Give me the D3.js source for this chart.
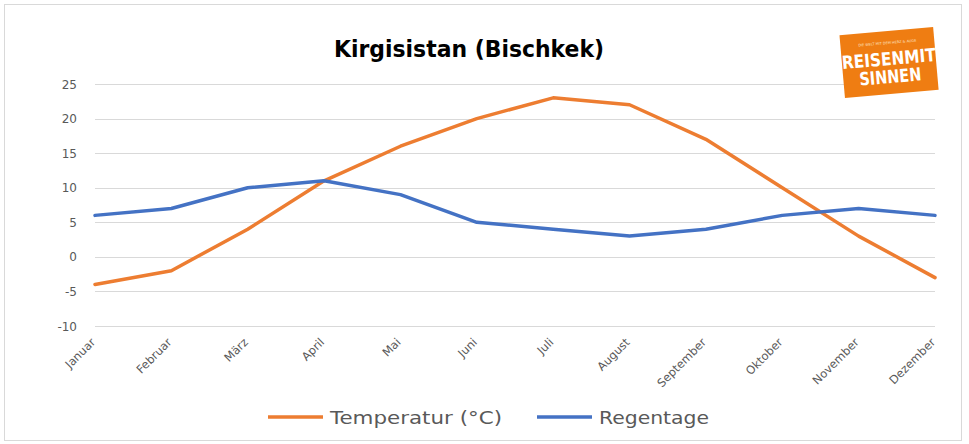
<html>
<head>
<title>Kirgisistan (Bischkek)</title>
<script src="https://cdn.jsdelivr.net/npm/d3@7"></script>
<style>
  body { margin:0; background:#fff; }
  text { font-family: "DejaVu Sans", sans-serif; }
</style>
</head>
<body>
<svg id="chart" width="969" height="444"></svg>

<script type="text/javascript">
  var months = ["Januar", "Februar", "März", "April", "Mai", "Juni", "Juli", "August", "September", "Oktober", "November", "Dezember"];
  var temperatur = [-4, -2, 4, 11, 16, 20, 23, 22, 17, 10, 3, -3];
  var regentage = [6, 7, 10, 11, 9, 5, 4, 3, 4, 6, 7, 6];
  var yTicks = [-10, -5, 0, 5, 10, 15, 20, 25];

  var svg = d3.select("#chart");

  // outer frame
  svg.append("rect")
      .attr("x", 4.5).attr("y", 4.5)
      .attr("width", 957).attr("height", 436)
      .attr("fill", "#fff")
      .attr("stroke", "#d9d9d9");

  var x = d3.scalePoint().domain(months).range([95, 935]);
  var y = d3.scaleLinear().domain([-10, 25]).range([326, 84]);

  // gridlines
  svg.append("g")
    .selectAll("line")
    .data(yTicks)
    .enter().append("line")
      .attr("x1", 95).attr("x2", 935)
      .attr("y1", function(d) { return Math.round(y(d)) + 0.5; })
      .attr("y2", function(d) { return Math.round(y(d)) + 0.5; })
      .attr("stroke", "#d9d9d9");

  // y axis labels
  svg.append("g")
    .selectAll("text")
    .data(yTicks)
    .enter().append("text")
      .attr("x", 77)
      .attr("y", function(d) { return y(d) + 4.5; })
      .attr("text-anchor", "end")
      .attr("font-size", 12)
      .attr("fill", "#595959")
      .text(function(d) { return d; });

  // x axis labels, rotated
  svg.append("g")
    .selectAll("text")
    .data(months)
    .enter().append("text")
      .attr("transform", function(d) { return "translate(" + (x(d) + 1) + ",343) rotate(-45)"; })
      .attr("text-anchor", "end")
      .attr("font-size", 11.5)
      .attr("fill", "#595959")
      .text(function(d) { return d; });

  var line = d3.line()
      .x(function(d, i) { return x(months[i]); })
      .y(function(d) { return y(d); });

  svg.append("path")
      .datum(temperatur)
      .attr("d", line)
      .attr("fill", "none")
      .attr("stroke", "#ED7D31")
      .attr("stroke-width", 3.5)
      .attr("stroke-linejoin", "round")
      .attr("stroke-linecap", "round");

  svg.append("path")
      .datum(regentage)
      .attr("d", line)
      .attr("fill", "none")
      .attr("stroke", "#4472C4")
      .attr("stroke-width", 3.5)
      .attr("stroke-linejoin", "round")
      .attr("stroke-linecap", "round");

  // title
  svg.append("text")
      .attr("x", 469).attr("y", 57)
      .attr("text-anchor", "middle")
      .attr("font-family", "'DejaVu Sans', sans-serif")
      .attr("font-stretch", "condensed")
      .attr("font-weight", "bold")
      .attr("font-size", 23)
      .attr("textLength", 270)
      .attr("lengthAdjust", "spacingAndGlyphs")
      .attr("fill", "#000")
      .text("Kirgisistan (Bischkek)");

  // legend
  var legend = [
    {name: "Temperatur (°C)", color: "#ED7D31", x: 268, w: 172},
    {name: "Regentage", color: "#4472C4", x: 537, w: 110}
  ];
  var lg = svg.append("g").selectAll("g")
    .data(legend)
    .enter().append("g")
      .attr("transform", function(d) { return "translate(" + d.x + ",417)"; });
  lg.append("line")
      .attr("x1", 0).attr("x2", 55)
      .attr("stroke", function(d) { return d.color; })
      .attr("stroke-width", 3.5);
  lg.append("text")
      .attr("x", 62).attr("y", 6.5)
      .attr("font-size", 18.5)
      .attr("textLength", function(d) { return d.w; })
      .attr("lengthAdjust", "spacingAndGlyphs")
      .attr("fill", "#595959")
      .text(function(d) { return d.name; });

  // logo
  var logo = svg.append("g").attr("transform", "translate(889,62) rotate(-5)");
  logo.append("rect")
      .attr("x", -47).attr("y", -31)
      .attr("width", 94).attr("height", 63)
      .attr("fill", "#EF7D12");
  logo.append("text")
      .attr("y", -18).attr("text-anchor", "middle")
      .attr("font-size", 3.5).attr("fill", "#fde1c4")
      .text("DIE WELT MIT DEM HERZ & AUGE");
  logo.append("text")
      .attr("y", 3).attr("text-anchor", "middle")
      .attr("font-family", "'DejaVu Sans', sans-serif")
      .attr("font-stretch", "condensed")
      .attr("font-weight", "bold").attr("font-size", 18)
      .attr("textLength", 94).attr("lengthAdjust", "spacingAndGlyphs")
      .attr("fill", "#fff")
      .text("REISENMIT");
  logo.append("text")
      .attr("y", 21).attr("text-anchor", "middle")
      .attr("font-family", "'DejaVu Sans', sans-serif")
      .attr("font-stretch", "condensed")
      .attr("font-weight", "bold").attr("font-size", 18)
      .attr("textLength", 62).attr("lengthAdjust", "spacingAndGlyphs")
      .attr("fill", "#fff")
      .text("SINNEN");
</script>
</body>
</html>
